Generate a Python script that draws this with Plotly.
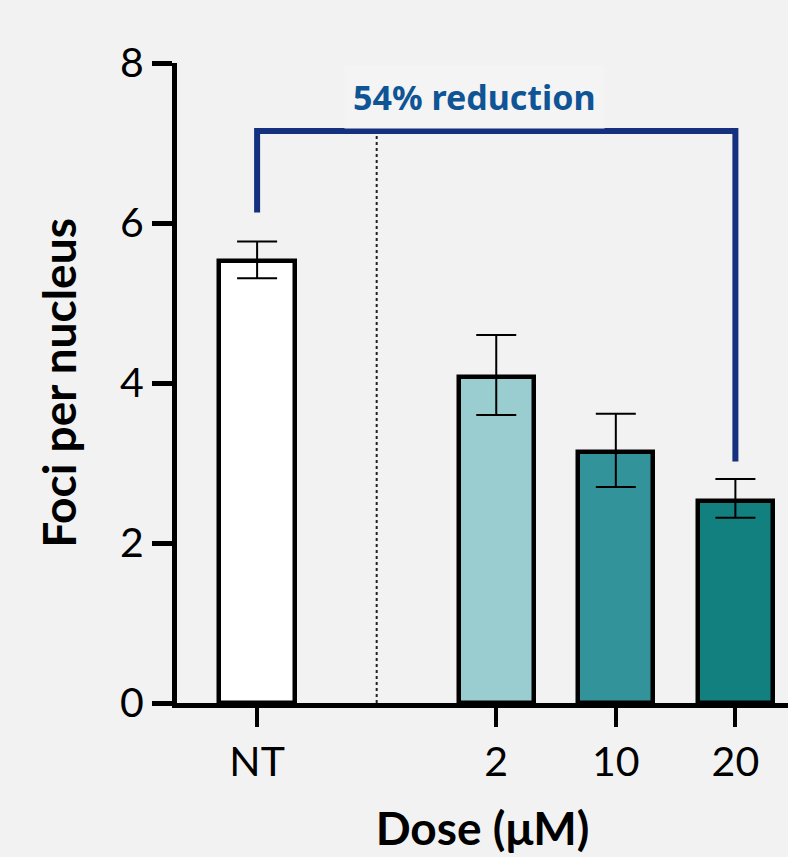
import plotly.graph_objects as go

# ---- data ----
categories = ["NT", "2", "10", "20"]
positions = [0, 2, 3, 4]          # category slots (slot 1 = separator)
means = [5.52, 4.075, 3.14, 2.525]
err_plus = [0.25, 0.525, 0.475, 0.275]
err_minus = [0.21, 0.475, 0.44, 0.21]
bar_colors = ["#ffffff", "#9acdd0", "#33939b", "#11807e"]

separator_pos = [1, 1]
separator_y = [0, 7.13]

bracket_x = [0, 0, 4, 4]
bracket_y = [6.13, 7.15, 7.15, 3.02]
bracket_label = "54% reduction"
bracket_label_x = 1.82
bracket_label_y = 7.575

y_ticks = [0, 2, 4, 6, 8]

BG = "#f2f2f2"

fig = go.Figure()

fig.add_trace(go.Scatter(
    x=separator_pos, y=separator_y, mode="lines",
    line=dict(color="#222222", width=2, dash="dot"),
    hoverinfo="skip", showlegend=False,
))

fig.add_trace(go.Bar(
    x=positions, y=means, width=0.63,
    marker=dict(color=bar_colors, line=dict(color="black", width=4.5)),
    error_y=dict(type="data", array=err_plus, arrayminus=err_minus,
                 symmetric=False, color="black", thickness=2, width=20),
    showlegend=False,
))

fig.add_trace(go.Scatter(
    x=bracket_x, y=bracket_y, mode="lines",
    line=dict(color="#14307f", width=6),
    hoverinfo="skip", showlegend=False,
))

fig.add_annotation(
    x=bracket_label_x, y=bracket_label_y,
    xref="x", yref="y", text="<b>" + bracket_label + "</b>", showarrow=False,
    font=dict(family="Noto Sans", size=34, color="#0f5596"),
    bgcolor="#f4f4f4", borderpad=8,
)

fig.update_layout(
    width=788, height=857,
    margin=dict(l=177, r=0, t=63, b=154),
    paper_bgcolor=BG, plot_bgcolor=BG,
    bargap=0,
    xaxis=dict(
        range=[-0.67, 4.44], tickmode="array", tickvals=positions, ticktext=categories,
        showline=True, linecolor="black", linewidth=5, showgrid=False, zeroline=False,
        ticks="outside", ticklen=19, tickwidth=4, tickcolor="black",
        tickfont=dict(family="Lato", size=41, color="black"),
        title=dict(text="<b>Dose (μM)</b>", font=dict(family="Lato", size=46, color="black"),
                   standoff=30),
    ),
    yaxis=dict(
        range=[0, 8], tickmode="array", tickvals=y_ticks,
        showline=True, linecolor="black", linewidth=5, showgrid=False, zeroline=False,
        ticks="outside", ticklen=20, tickwidth=5, tickcolor="black",
        tickfont=dict(family="Lato", size=41, color="black"),
        title=dict(text="<b>Foci per nucleus</b>", font=dict(family="Lato", size=46, color="black"),
                   standoff=30),
    ),
)

fig.write_html("out.html")
